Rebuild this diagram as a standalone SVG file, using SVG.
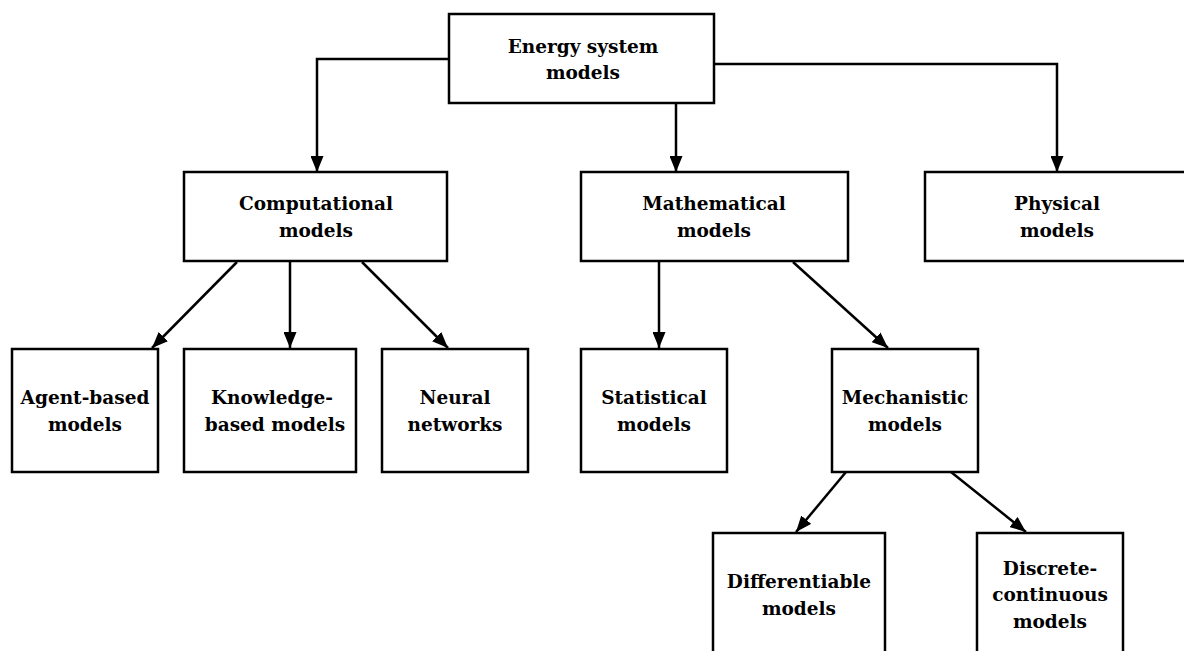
<svg xmlns="http://www.w3.org/2000/svg" width="1184" height="651" viewBox="0 0 1184 651">
<defs>
<marker id="arr" viewBox="0 0 16 13" refX="16" refY="6.5" markerWidth="16" markerHeight="13" markerUnits="userSpaceOnUse" orient="auto">
<path d="M0,0 L16,6.5 L0,13 Z" fill="#000"/>
</marker>
<style>
.box{fill:#fff;stroke:#000;stroke-width:2.5}
.lbl{font-family:"DejaVu Serif","Liberation Serif",serif;font-weight:bold;font-size:18.5px;fill:#000;text-anchor:middle}
.edge{fill:none;stroke:#000;stroke-width:2.5;marker-end:url(#arr)}
</style>
</defs>
<rect width="1184" height="651" fill="#fff"/>
<g id="connectors">
<path class="edge" d="M449,59 H317 V172"/>
<path class="edge" d="M676,103 V172"/>
<path class="edge" d="M714,64 H1057 V172"/>
<path class="edge" d="M237,262 L152,348"/>
<path class="edge" d="M290,262 V348"/>
<path class="edge" d="M362,262 L448,348"/>
<path class="edge" d="M659,262 V348"/>
<path class="edge" d="M793,262 L888,348"/>
<path class="edge" d="M846,472 L796,532"/>
<path class="edge" d="M951,472 L1026,532"/>
</g>
<g id="n-energy"><rect class="box" x="449" y="14" width="265" height="89"/><text class="lbl" x="583" y="53">Energy system</text><text class="lbl" x="583" y="79">models</text></g>
<g id="n-computational"><rect class="box" x="184" y="172" width="263" height="89"/><text class="lbl" x="316" y="210">Computational</text><text class="lbl" x="316" y="237">models</text></g>
<g id="n-mathematical"><rect class="box" x="581" y="172" width="267" height="89"/><text class="lbl" x="714" y="210">Mathematical</text><text class="lbl" x="714" y="237">models</text></g>
<g id="n-physical"><rect class="box" x="925" y="172" width="270" height="89"/><text class="lbl" x="1057" y="210">Physical</text><text class="lbl" x="1057" y="237">models</text></g>
<g id="n-agent"><rect class="box" x="12" y="349" width="146" height="123"/><text class="lbl" x="85" y="404">Agent-based</text><text class="lbl" x="85" y="431">models</text></g>
<g id="n-knowledge"><rect class="box" x="184" y="349" width="172" height="123"/><text class="lbl" x="272" y="404">Knowledge-</text><text class="lbl" x="275" y="431">based models</text></g>
<g id="n-neural"><rect class="box" x="382" y="349" width="146" height="123"/><text class="lbl" x="455" y="404">Neural</text><text class="lbl" x="455" y="431">networks</text></g>
<g id="n-statistical"><rect class="box" x="581" y="349" width="146" height="123"/><text class="lbl" x="654" y="404">Statistical</text><text class="lbl" x="654" y="431">models</text></g>
<g id="n-mechanistic"><rect class="box" x="832" y="349" width="146" height="123"/><text class="lbl" x="905" y="404">Mechanistic</text><text class="lbl" x="905" y="431">models</text></g>
<g id="n-differentiable"><rect class="box" x="713" y="533" width="172" height="140"/><text class="lbl" x="799" y="588">Differentiable</text><text class="lbl" x="799" y="615">models</text></g>
<g id="n-discrete"><rect class="box" x="977" y="533" width="146" height="140"/><text class="lbl" x="1050" y="575">Discrete-</text><text class="lbl" x="1050" y="601">continuous</text><text class="lbl" x="1050" y="628">models</text></g>
</svg>
